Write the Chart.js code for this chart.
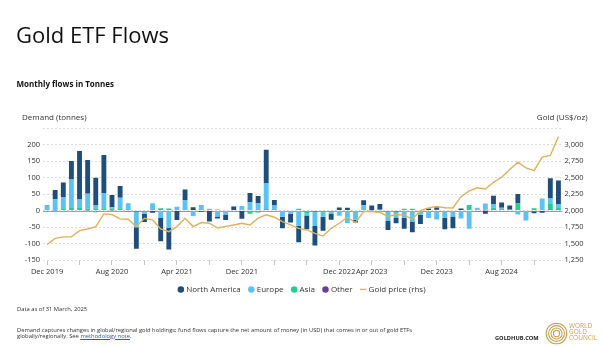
<!DOCTYPE html>
<html>
<head>
<meta charset="utf-8">
<title>Gold ETF Flows</title>
<script src="https://cdn.jsdelivr.net/npm/chart.js@4.4.1/dist/chart.umd.min.js"></script>
<style>
  html, body { margin: 0; padding: 0; background: #fff; }
  body { position: relative; width: 605px; height: 347px; overflow: hidden;
         font-family: 'Open Sans', sans-serif; color: #1a1a1a; }
  #chart { position: absolute; left: 0; top: 0; }
  .t { position: absolute; white-space: nowrap; }
  .note a { color: #2b56c4; text-decoration: underline; }
</style>
</head>
<body>
<canvas id="chart" width="605" height="347"></canvas>

<div class="t" style="left:16px; top:22.8px; font-size:22px; line-height:22px; color:#111;">Gold ETF Flows</div>
<div class="t" style="left:16.5px; top:80px; font-size:8px; line-height:8px; font-weight:700; color:#111;">Monthly flows in Tonnes</div>
<div class="t" style="left:22px; top:113.3px; font-size:8px; line-height:8px; color:#333;">Demand (tonnes)</div>
<div class="t" style="right:17.5px; top:113.3px; font-size:8px; line-height:8px; color:#333;">Gold (US$/oz)</div>

<div class="t" style="left:17px; top:306.4px; font-size:5.8px; line-height:6px; color:#333;">Data as of 31 March, 2025</div>
<div class="t note" style="left:17px; top:326.7px; font-size:5.8px; line-height:6px; color:#333;">Demand captures changes in global/regional gold holdings; fund flows capture the net amount of money (in USD) that comes in or out of gold ETFs<br>globally/regionally. See <a>methodology note</a>.</div>
<div class="t" style="left:495px; top:335px; font-size:5.7px; line-height:6px; font-weight:700; color:#1a1a1a;">GOLDHUB.COM</div>
<svg style="position:absolute; left:545px; top:322px;" width="23" height="23" viewBox="0 0 23 23">
  <g fill="none" stroke="#c9a24b" stroke-width="1.1">
    <circle cx="11.5" cy="11.5" r="10.3"/>
    <circle cx="11.5" cy="11.5" r="7.9"/>
    <circle cx="11.5" cy="11.5" r="5.5"/>
    <circle cx="11.5" cy="11.5" r="3.1"/>
  </g>
</svg>
<div class="t" style="left:569px; top:322.6px; font-size:6.5px; line-height:6.2px; color:#c9a24b;">WORLD<br>GOLD<br>COUNCIL</div>

<script>
// Monthly categories, Dec 2019 - Mar 2025
const months = [
  'Dec 2019',
  'Jan 2020','Feb 2020','Mar 2020','Apr 2020','May 2020','Jun 2020','Jul 2020','Aug 2020','Sep 2020','Oct 2020','Nov 2020','Dec 2020',
  'Jan 2021','Feb 2021','Mar 2021','Apr 2021','May 2021','Jun 2021','Jul 2021','Aug 2021','Sep 2021','Oct 2021','Nov 2021','Dec 2021',
  'Jan 2022','Feb 2022','Mar 2022','Apr 2022','May 2022','Jun 2022','Jul 2022','Aug 2022','Sep 2022','Oct 2022','Nov 2022','Dec 2022',
  'Jan 2023','Feb 2023','Mar 2023','Apr 2023','May 2023','Jun 2023','Jul 2023','Aug 2023','Sep 2023','Oct 2023','Nov 2023','Dec 2023',
  'Jan 2024','Feb 2024','Mar 2024','Apr 2024','May 2024','Jun 2024','Jul 2024','Aug 2024','Sep 2024','Oct 2024','Nov 2024','Dec 2024',
  'Jan 2025','Feb 2025','Mar 2025'
];

// Month labels printed under the x axis
const tickLabels = ['Dec 2019','Aug 2020','Apr 2021','Dec 2021','Dec 2022','Apr 2023','Dec 2023','Aug 2024'];

// Regional flows, tonnes
const northAmerica = [
  1, 28, 44, 56, 145, 102, 84, 115, 37, 35, 0, -65, -25,
  -7, -70, -65, -29, 32, 10, -4, -33, -6, -15, 12, -25,
  28, 22, 101, 17, -35, -26, -50, -42, -59, -42, -19, 9,
  8, -8, 15, 14, 18, -27, -16, -33, -33, -28, 6, 8,
  -35, -36, 6, 0, -2, -10, 25, 16, 12, 28, 0, -6,
  -7, 60, 71
];
const europe = [
  14, 33, 34, 84, 25, 46, 12, 46, 4, 32, 22, -48, -6,
  20, -23, -53, 11, 32, -17, 17, 5, -18, -14, 0, 11,
  25, 22, 80, 15, -19, -10, -46, -6, -44, -12, -3, -16,
  -38, -28, 12, 1, 2, -30, -20, -22, -33, -13, -23, -27,
  -22, -18, -24, -55, 5, 18, 11, 6, 1, -12, -30, -2,
  36, 16, 10
];
const asia = [
  -3, 1, 7, 7, 7, 4, -5, 5, 5, 7, 0, 0, -4,
  0, 7, 6, 0, -3, 0, 0, 0, 3, 0, -4, 3,
  -10, -6, 0, 0, 0, 0, 5, -9, 0, -7, -6, 0,
  0, 0, 4, 0, 0, 0, 0, 5, 5, 0, 0, 0,
  0, 0, 0, 17, 3, 2, 9, 0, 0, 22, 0, 7,
  0, 22, 10
];
const other = [
  0, -1, 0, 3, 3, 1, 3, 2, 1, 0, -2, -3, 0,
  2, 0, 0, 0, 0, 0, 0, 0, 0, 0, 0, 0,
  0, 0, 3, 0, 0, 0, 0, 0, -3, 0, 0, 0,
  0, 0, 0, 0, 0, -2, -3, 0, 0, 0, 0, 2,
  0, 0, 0, 0, 0, 1, 0, 2, 2, 0, 0, 0,
  0, 0, 0
];

// Gold price, US$/oz (right axis)
const goldPrice = [
  1485, 1578, 1600, 1603, 1695, 1720, 1756, 1949, 1939, 1873, 1868, 1756, 1883,
  1857, 1720, 1680, 1756, 1883, 1756, 1817, 1807, 1735, 1760, 1781, 1807,
  1781, 1883, 1934, 1898, 1832, 1781, 1730, 1705, 1654, 1613, 1730, 1807,
  1898, 1817, 1985, 1985, 1970, 1910, 1940, 1930, 1868, 2000, 2040, 2060,
  2042, 2038, 2210, 2298, 2345, 2326, 2427, 2504, 2621, 2733, 2646, 2605,
  2809, 2834, 3119
];

const COLORS = {
  northAmerica: '#1f4e7a',
  europe: '#5bc2f4',
  asia: '#1fd08f',
  other: '#6b3f98',
  gold: '#dcb25e'
};

Chart.defaults.font.family = "'Open Sans', sans-serif";
Chart.defaults.color = '#333';

// Solid line along the zero level of the tonnes axis
const zeroLine = {
  id: 'zeroLine',
  beforeDatasetsDraw(chart) {
    const { ctx, chartArea, scales } = chart;
    const py = Math.round(scales.y.getPixelForValue(0)) + 0.5;
    ctx.save();
    ctx.strokeStyle = '#a0a0a0';
    ctx.lineWidth = 1;
    ctx.beginPath();
    ctx.moveTo(chartArea.left, py);
    ctx.lineTo(chartArea.right, py);
    ctx.stroke();
    ctx.restore();
  }
};

// datasets listed from the bottom of each stack upwards
const barCommon = { stack: 'flows', yAxisID: 'y', borderWidth: 0, barPercentage: 0.6, categoryPercentage: 1, order: 1 };
// legend order: North America, Europe, Asia, Other, Gold price
const legendRank = [3, 2, 1, 0, 4];

new Chart(document.getElementById('chart'), {
  type: 'bar',
  data: {
    labels: months,
    datasets: [
      { ...barCommon, label: 'Other', data: other, backgroundColor: COLORS.other },
      { ...barCommon, label: 'Asia', data: asia, backgroundColor: COLORS.asia },
      { ...barCommon, label: 'Europe', data: europe, backgroundColor: COLORS.europe },
      { ...barCommon, label: 'North America', data: northAmerica, backgroundColor: COLORS.northAmerica },
      {
        type: 'line', label: 'Gold price (rhs)', data: goldPrice, yAxisID: 'y1',
        borderColor: COLORS.gold, backgroundColor: COLORS.gold, borderWidth: 1.4,
        pointRadius: 0, pointHoverRadius: 0, pointStyle: 'line', tension: 0, fill: false, order: 0
      }
    ]
  },
  options: {
    responsive: false,
    animation: false,
    devicePixelRatio: 1,
    layout: { padding: { top: 128, right: 0, bottom: 43.6, left: 0 } },
    scales: {
      x: {
        stacked: true,
        offset: true,
        grid: {
          offset: false, drawOnChartArea: false, drawTicks: true, tickLength: 5,
          tickColor: c => (c.index % 4 === 0 ? '#c4c4c4' : 'rgba(0,0,0,0)')
        },
        border: { display: false },
        ticks: {
          autoSkip: false, maxRotation: 0, minRotation: 0, padding: 2,
          font: { size: 7.5 }, color: '#333',
          callback: (v, i) => (tickLabels.includes(months[i]) ? months[i] : '')
        },
        afterFit: s => { s.height = 16.2; }
      },
      y: {
        stacked: true, position: 'left', min: -150, max: 250,
        ticks: { stepSize: 50, padding: 3, font: { size: 7.5 }, color: '#333',
                 callback: v => (v === 250 ? '' : v) },
        grid: { color: '#dcdcdc', drawTicks: false, lineWidth: 1 },
        border: { display: false, dash: [2, 2] },
        afterFit: s => { s.width = 43; }
      },
      y1: {
        position: 'right', min: 1250, max: 3250, stacked: false,
        ticks: { stepSize: 250, padding: 2, font: { size: 7.5 }, color: '#333',
                 callback: v => (v === 3250 ? '' : v.toLocaleString('en-US')) },
        grid: { drawOnChartArea: false, drawTicks: false },
        border: { display: false },
        afterFit: s => { s.width = 42.5; }
      }
    },
    plugins: {
      legend: {
        position: 'bottom',
        labels: {
          usePointStyle: true, boxWidth: 2.8, boxHeight: 4.6, padding: 9.2,
          font: { size: 8 }, color: '#333',
          sort: (a, b) => legendRank[a.datasetIndex] - legendRank[b.datasetIndex]
        }
      },
      tooltip: { enabled: false }
    }
  },
  plugins: [zeroLine]
});
</script>
</body>
</html>
